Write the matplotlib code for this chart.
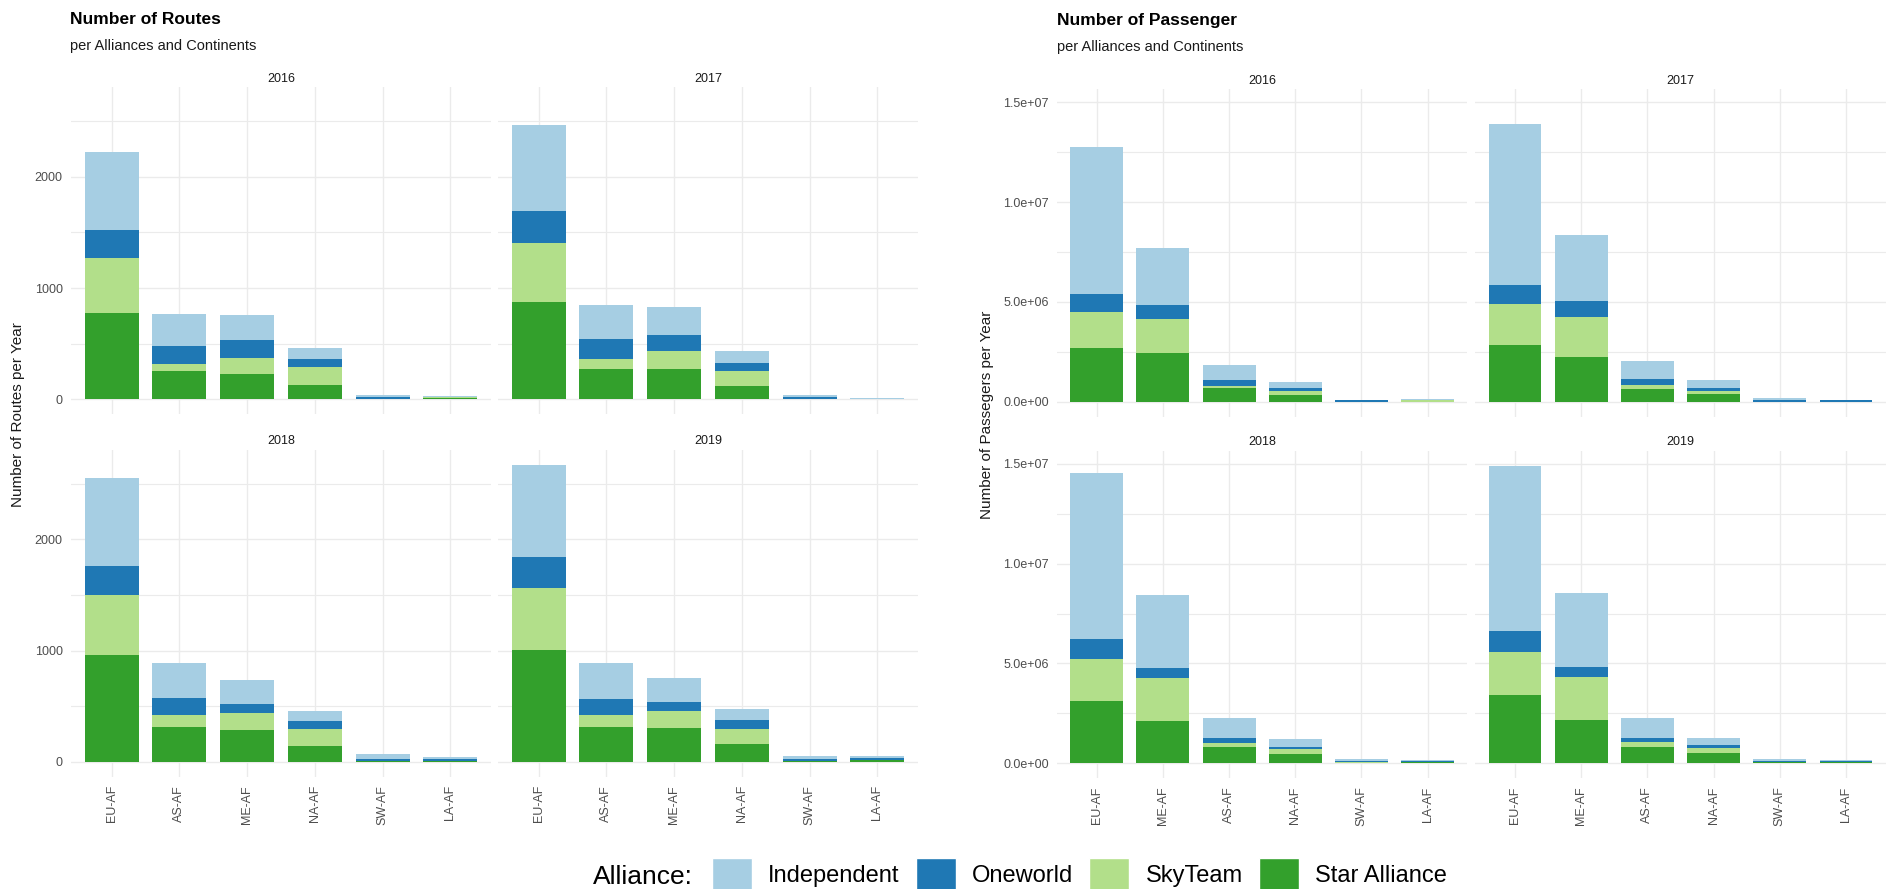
import numpy as np
import matplotlib.pyplot as plt
from matplotlib.patches import Patch
from matplotlib.ticker import FixedLocator, FuncFormatter

plt.rcParams["font.family"] = ["Liberation Sans", "DejaVu Sans"]

# ── Data ──────────────────────────────────────────────────────────────────────
YEARS = [2016, 2017, 2018, 2019]
ALLIANCES = ["Independent", "Oneworld", "SkyTeam", "Star Alliance"]
COLORS = {"Independent": "#A6CEE3", "Oneworld": "#1F78B4",
          "SkyTeam": "#B2DF8A", "Star Alliance": "#33A02C"}

route_cats = ["EU-AF", "AS-AF", "ME-AF", "NA-AF", "SW-AF", "LA-AF"]
pax_cats = ["EU-AF", "ME-AF", "AS-AF", "NA-AF", "SW-AF", "LA-AF"]

# routes per year, one list per alliance (order of route_cats)
routes_star = {2016: [778, 249, 228, 126, 3, 12], 2017: [871, 270, 270, 120, 3, 1],
               2018: [960, 314, 281, 140, 3, 3], 2019: [1008, 311, 299, 161, 3, 15]}
routes_sky = {2016: [489, 69, 138, 162, 2, 3], 2017: [537, 87, 162, 129, 2, 1],
              2018: [538, 105, 159, 150, 3, 2], 2019: [559, 108, 158, 129, 3, 3]}
routes_one = {2016: [253, 159, 163, 69, 10, 2], 2017: [283, 181, 148, 72, 10, 2],
              2018: [260, 152, 80, 72, 18, 22], 2019: [278, 143, 81, 81, 15, 15]}
routes_ind = {2016: [708, 289, 228, 99, 21, 10], 2017: [777, 309, 249, 108, 21, 8],
              2018: [792, 317, 219, 95, 42, 15], 2019: [828, 326, 218, 107, 30, 15]}

# passengers per year (millions), order of pax_cats
pax_star = {2016: [2.67, 2.42, 0.70, 0.33, 0.005, 0.005], 2017: [2.85, 2.25, 0.63, 0.40, 0.005, 0.005],
            2018: [3.12, 2.12, 0.80, 0.45, 0.04, 0.06], 2019: [3.40, 2.17, 0.83, 0.50, 0.07, 0.07]}
pax_sky = {2016: [1.84, 1.70, 0.10, 0.22, 0.005, 0.10], 2017: [2.06, 1.99, 0.20, 0.15, 0.005, 0.005],
           2018: [2.09, 2.17, 0.20, 0.25, 0.01, 0.01], 2019: [2.16, 2.17, 0.22, 0.28, 0.01, 0.01]}
pax_one = {2016: [0.90, 0.74, 0.29, 0.12, 0.07, 0.005], 2017: [0.95, 0.79, 0.29, 0.15, 0.07, 0.08],
           2018: [1.01, 0.50, 0.28, 0.10, 0.07, 0.06], 2019: [1.06, 0.50, 0.23, 0.14, 0.06, 0.05]}
pax_ind = {2016: [7.34, 2.82, 0.75, 0.30, 0.02, 0.01], 2017: [8.06, 3.32, 0.90, 0.37, 0.10, 0.02],
           2018: [8.30, 3.65, 1.01, 0.42, 0.10, 0.04], 2019: [8.28, 3.67, 1.01, 0.36, 0.08, 0.04]}

# ── Layout helpers ────────────────────────────────────────────────────────────
W, H = 1886, 889
GRID = "#EBEBEB"
TICK = "#4D4D4D"


def box(l, r, t, b):
    return [l / W, 1 - b / H, (r - l) / W, (b - t) / H]


def draw_facet(ax, cats, layers, ylim, major, minor, fmt, year, show_x, show_y):
    x = np.arange(len(cats))
    bottom = np.zeros(len(cats))
    for name, vals in layers:
        vals = np.asarray(vals, dtype=float)
        ax.bar(x, vals, width=0.8, bottom=bottom, color=COLORS[name],
               linewidth=0, zorder=3)
        bottom += vals
    ax.set_xlim(-0.6, len(cats) - 0.4)
    ax.set_ylim(*ylim)
    ax.set_xticks(x)
    ax.yaxis.set_major_locator(FixedLocator(major))
    ax.yaxis.set_minor_locator(FixedLocator(minor))
    ax.yaxis.set_major_formatter(FuncFormatter(fmt))
    ax.grid(True, which="major", color=GRID, lw=1.0, zorder=0)
    ax.grid(True, which="minor", axis="y", color=GRID, lw=0.8, zorder=0)
    for s in ax.spines.values():
        s.set_visible(False)
    ax.tick_params(which="both", length=0, colors=TICK, labelsize=9, pad=6)
    if show_x:
        ax.set_xticklabels(cats, rotation=90)
    else:
        ax.set_xticklabels([])
    if not show_y:
        ax.set_yticklabels([])
    ax.set_title(str(year), fontsize=9, color="#1A1A1A", pad=4)


fig = plt.figure(figsize=(W / 100, H / 100), dpi=100)

# ── Routes ────────────────────────────────────────────────────────────────────
r_max = max(np.sum([routes_star[y], routes_sky[y], routes_one[y], routes_ind[y]], axis=0).max() for y in YEARS)
r_lim = (-0.05 * r_max, 1.05 * r_max)
route_boxes = {2016: box(71, 491, 87.4, 413.9), 2017: box(498, 918, 87.4, 413.9),
               2018: box(71, 491, 449.7, 776.6), 2019: box(498, 918, 449.7, 776.6)}
for i, y in enumerate(YEARS):
    ax = fig.add_axes(route_boxes[y])
    layers = [("Star Alliance", routes_star[y]), ("SkyTeam", routes_sky[y]),
              ("Oneworld", routes_one[y]), ("Independent", routes_ind[y])]
    draw_facet(ax, route_cats, layers, r_lim, [0, 1000, 2000], [500, 1500, 2500],
               lambda v, p: f"{v:.0f}", y, show_x=i >= 2, show_y=i % 2 == 0)

# ── Passengers ────────────────────────────────────────────────────────────────
p_max = max(np.sum([pax_star[y], pax_sky[y], pax_one[y], pax_ind[y]], axis=0).max() for y in YEARS) * 1e6
p_lim = (-0.05 * p_max, 1.05 * p_max)
pax_boxes = {2016: box(1057, 1467.4, 89.3, 416.6), 2017: box(1475.3, 1885.7, 89.3, 416.6),
             2018: box(1057, 1467.4, 450.9, 778.2), 2019: box(1475.3, 1885.7, 450.9, 778.2)}
for i, y in enumerate(YEARS):
    ax = fig.add_axes(pax_boxes[y])
    layers = [("Star Alliance", np.array(pax_star[y]) * 1e6), ("SkyTeam", np.array(pax_sky[y]) * 1e6),
              ("Oneworld", np.array(pax_one[y]) * 1e6), ("Independent", np.array(pax_ind[y]) * 1e6)]
    draw_facet(ax, pax_cats, layers, p_lim, [0, 5e6, 1e7, 1.5e7], [2.5e6, 7.5e6, 1.25e7],
               lambda v, p: f"{v:.1e}", y, show_x=i >= 2, show_y=i % 2 == 0)

# ── Titles and axis labels ────────────────────────────────────────────────────
fig.text(70 / W, 1 - 24 / H, "Number of Routes", fontsize=12.5, fontweight="bold", va="baseline")
fig.text(70 / W, 1 - 50 / H, "per Alliances and Continents", fontsize=10.5, color="#1A1A1A", va="baseline")
fig.text(1057 / W, 1 - 25 / H, "Number of Passenger", fontsize=12.5, fontweight="bold", va="baseline")
fig.text(1057 / W, 1 - 51 / H, "per Alliances and Continents", fontsize=10.5, color="#1A1A1A", va="baseline")

fig.text(18 / W, 1 - 415 / H, "Number of Routes per Year", rotation=90, fontsize=11,
         color="#1A1A1A", ha="center", va="center")
fig.text(987 / W, 1 - 415 / H, "Number of Passegers per Year", rotation=90, fontsize=11,
         color="#1A1A1A", ha="center", va="center")

# ── Legend ────────────────────────────────────────────────────────────────────
fig.text(593 / W, 1 - 877 / H, "Alliance:", fontsize=19, va="center")
handles = [Patch(facecolor=COLORS[a], edgecolor="white", label=a) for a in ALLIANCES]
fig.legend(handles=handles, loc="center left", bbox_to_anchor=(712 / W, 1 - 874 / H),
           ncol=4, frameon=False, fontsize=17, handlelength=1.7, handleheight=1.7,
           handletextpad=0.68, columnspacing=0.68, borderpad=0, borderaxespad=0)

fig.savefig("out.png", dpi=100, facecolor="white")
